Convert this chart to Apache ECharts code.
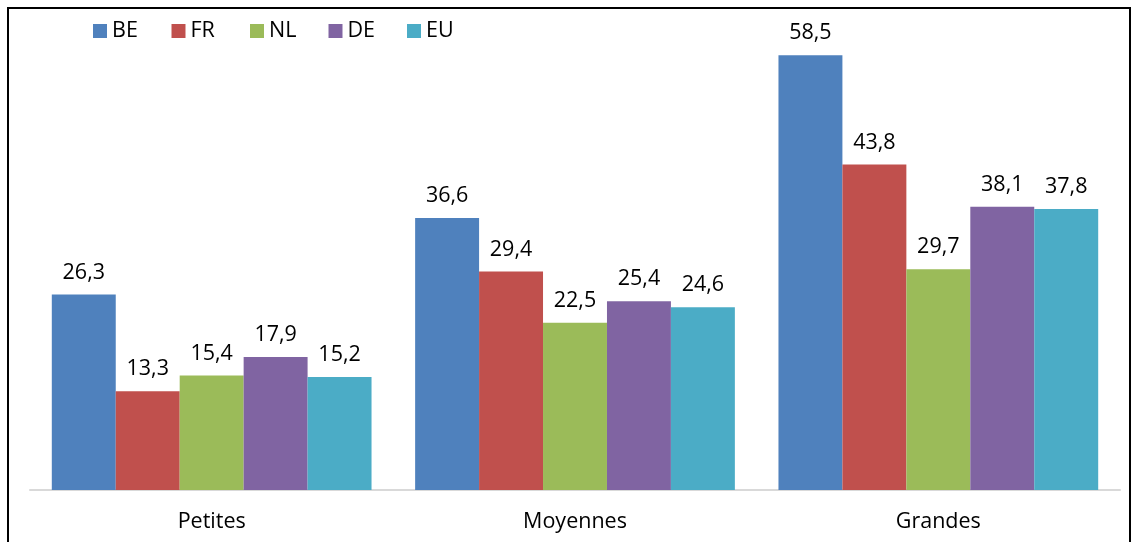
<!DOCTYPE html>
<html>
<head>
<meta charset="utf-8">
<script src="https://cdn.jsdelivr.net/npm/echarts@6/dist/echarts.min.js"></script>
<style>
  html, body { margin: 0; padding: 0; background: #fff; }
  #panel { width: 1131px; height: 542px; }
</style>
</head>
<body>
<div id="panel"></div>
<script>
// catégories et valeurs
var categories = ['Petites', 'Moyennes', 'Grandes'];
var seriesNames = ['BE', 'FR', 'NL', 'DE', 'EU'];
var valBE = [26.3, 36.6, 58.5];
var valFR = [13.3, 29.4, 43.8];
var valNL = [15.4, 22.5, 29.7];
var valDE = [17.9, 25.4, 38.1];
var valEU = [15.2, 24.6, 37.8];
var colors = ['#4f81bd', '#c0504d', '#9bbb59', '#8064a2', '#4bacc6'];

var allValues = [valBE, valFR, valNL, valDE, valEU];
var fontFam = '"Open Sans", "Noto Sans", sans-serif';
var fs = 21.5;

chartDom = document.getElementById('panel');
myChart = echarts.init(chartDom);

var series = seriesNames.map(function (name, i) {
    return {
        name: name,
        type: 'bar',
        data: allValues[i],
        barGap: '0%',
        barCategoryGap: '12%',
        itemStyle: { color: colors[i] },
        label: {
            show: true,
            position: 'top',
            distance: 11,
            color: '#000',
            fontSize: fs,
            fontFamily: fontFam,
            formatter: function (p) {
                return p.value.toFixed(1).replace('.', ',');
            }
        }
    };
});

/** une légende par série, espacement fixe comme Excel */
var legends = seriesNames.map(function (name, i) {
    return {
        left: 93 + i * 78.5,
        top: 20,
        itemWidth: 14,
        itemHeight: 14,
        itemGap: 0,
        icon: 'rect',
        padding: 0,
        textStyle: { fontSize: fs, lineHeight: 22, fontFamily: fontFam, color: '#000' },
        data: [name]
    };
});

myChart.setOption({
    animation: false,
    color: colors,
    legend: legends,
    grid: { left: 30, right: 11, top: 44, bottom: 52 },
    xAxis: {
        type: 'category',
        data: categories,
        axisLine: { lineStyle: { color: '#d9d9d9', width: 2 } },
        axisTick: { show: false },
        axisLabel: { color: '#000', fontSize: fs, fontFamily: fontFam, margin: 21 }
    },
    yAxis: {
        type: 'value',
        min: 0,
        max: 60,
        show: false
    },
    graphic: [{
        type: 'rect',
        shape: { x: 8, y: 8, width: 1122, height: 560 },
        style: { fill: 'none', stroke: '#000', lineWidth: 2 }
    }],
    series: series
});
</script>
</body>
</html>
